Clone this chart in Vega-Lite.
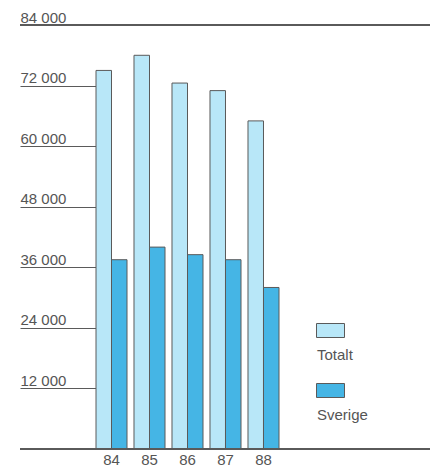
{
  "$schema": "https://vega.github.io/schema/vega-lite/v6.json",
  "autosize": "none",
  "width": 410,
  "height": 424,
  "padding": {"left": 20, "top": 25, "right": 4, "bottom": 19},
  "background": "#ffffff",
  "config": {
    "view": {"stroke": null},
    "font": "Liberation Sans",
    "text": {"font": "Liberation Sans"}
  },
  "data": {
    "values": [
      {"year": "84", "serie": "Totalt", "antal": 75000},
      {"year": "84", "serie": "Sverige", "antal": 37500},
      {"year": "85", "serie": "Totalt", "antal": 78000},
      {"year": "85", "serie": "Sverige", "antal": 40000},
      {"year": "86", "serie": "Totalt", "antal": 72500},
      {"year": "86", "serie": "Sverige", "antal": 38500},
      {"year": "87", "serie": "Totalt", "antal": 71000},
      {"year": "87", "serie": "Sverige", "antal": 37500},
      {"year": "88", "serie": "Totalt", "antal": 65000},
      {"year": "88", "serie": "Sverige", "antal": 32000}
    ]
  },
  "layer": [
    {
      "mark": {"type": "bar", "stroke": "#5a5a5a", "strokeWidth": 1},
      "encoding": {
        "x": {
          "field": "year",
          "type": "ordinal",
          "scale": {"range": [76, 259], "paddingInner": 0.184, "paddingOuter": 0},
          "axis": {
            "title": null,
            "domain": false,
            "ticks": false,
            "labelAngle": 0,
            "labelFontSize": 15,
            "labelColor": "#555555",
            "labelBaseline": "top",
            "labelPadding": 3
          }
        },
        "xOffset": {
          "field": "serie",
          "type": "nominal",
          "sort": ["Totalt", "Sverige"],
          "scale": {"paddingInner": 0, "paddingOuter": 0}
        },
        "y": {
          "field": "antal",
          "type": "quantitative",
          "scale": {"domain": [0, 84000], "nice": false},
          "axis": {
            "title": null,
            "grid": false,
            "domain": false,
            "values": [12000, 24000, 36000, 48000, 60000, 72000, 84000],
            "offset": -76,
            "tickSize": 76,
            "tickColor": "#5a5a5a",
            "tickWidth": 1.2,
            "labelAlign": "left",
            "labelBaseline": "alphabetic",
            "labelPadding": 0,
            "labelOffset": -3,
            "labelFontSize": 15,
            "labelColor": "#555555",
            "labelOverlap": false,
            "labelBound": false,
            "labelFlush": false,
            "labelExpr": "replace(format(datum.value, ','), ',', ' ')"
          }
        },
        "color": {
          "field": "serie",
          "type": "nominal",
          "sort": ["Totalt", "Sverige"],
          "scale": {"domain": ["Totalt", "Sverige"], "range": ["#b8e7f8", "#45b5e5"]},
          "legend": {
            "title": null,
            "orient": "none",
            "legendX": 296,
            "legendY": 291,
            "padding": 0,
            "symbolType": "M-1,-0.5H1V0.5H-1Z",
            "symbolSize": 784,
            "symbolStrokeColor": "#5a5a5a",
            "symbolStrokeWidth": 1,
            "symbolOpacity": 1,
            "labelFontSize": 15,
            "labelColor": "#555555",
            "labelAlign": "left",
            "labelBaseline": "top",
            "labelOffset": -28,
            "labelLineHeight": 12,
            "labelExpr": "['', datum.label]",
            "rowPadding": 13
          }
        }
      }
    },
    {
      "mark": {"type": "rule", "stroke": "#5a5a5a", "strokeWidth": 1.2},
      "encoding": {"y": {"datum": 84000, "type": "quantitative"}}
    },
    {
      "mark": {"type": "rule", "stroke": "#5a5a5a", "strokeWidth": 1.2},
      "encoding": {"y": {"datum": 0, "type": "quantitative"}}
    }
  ]
}
